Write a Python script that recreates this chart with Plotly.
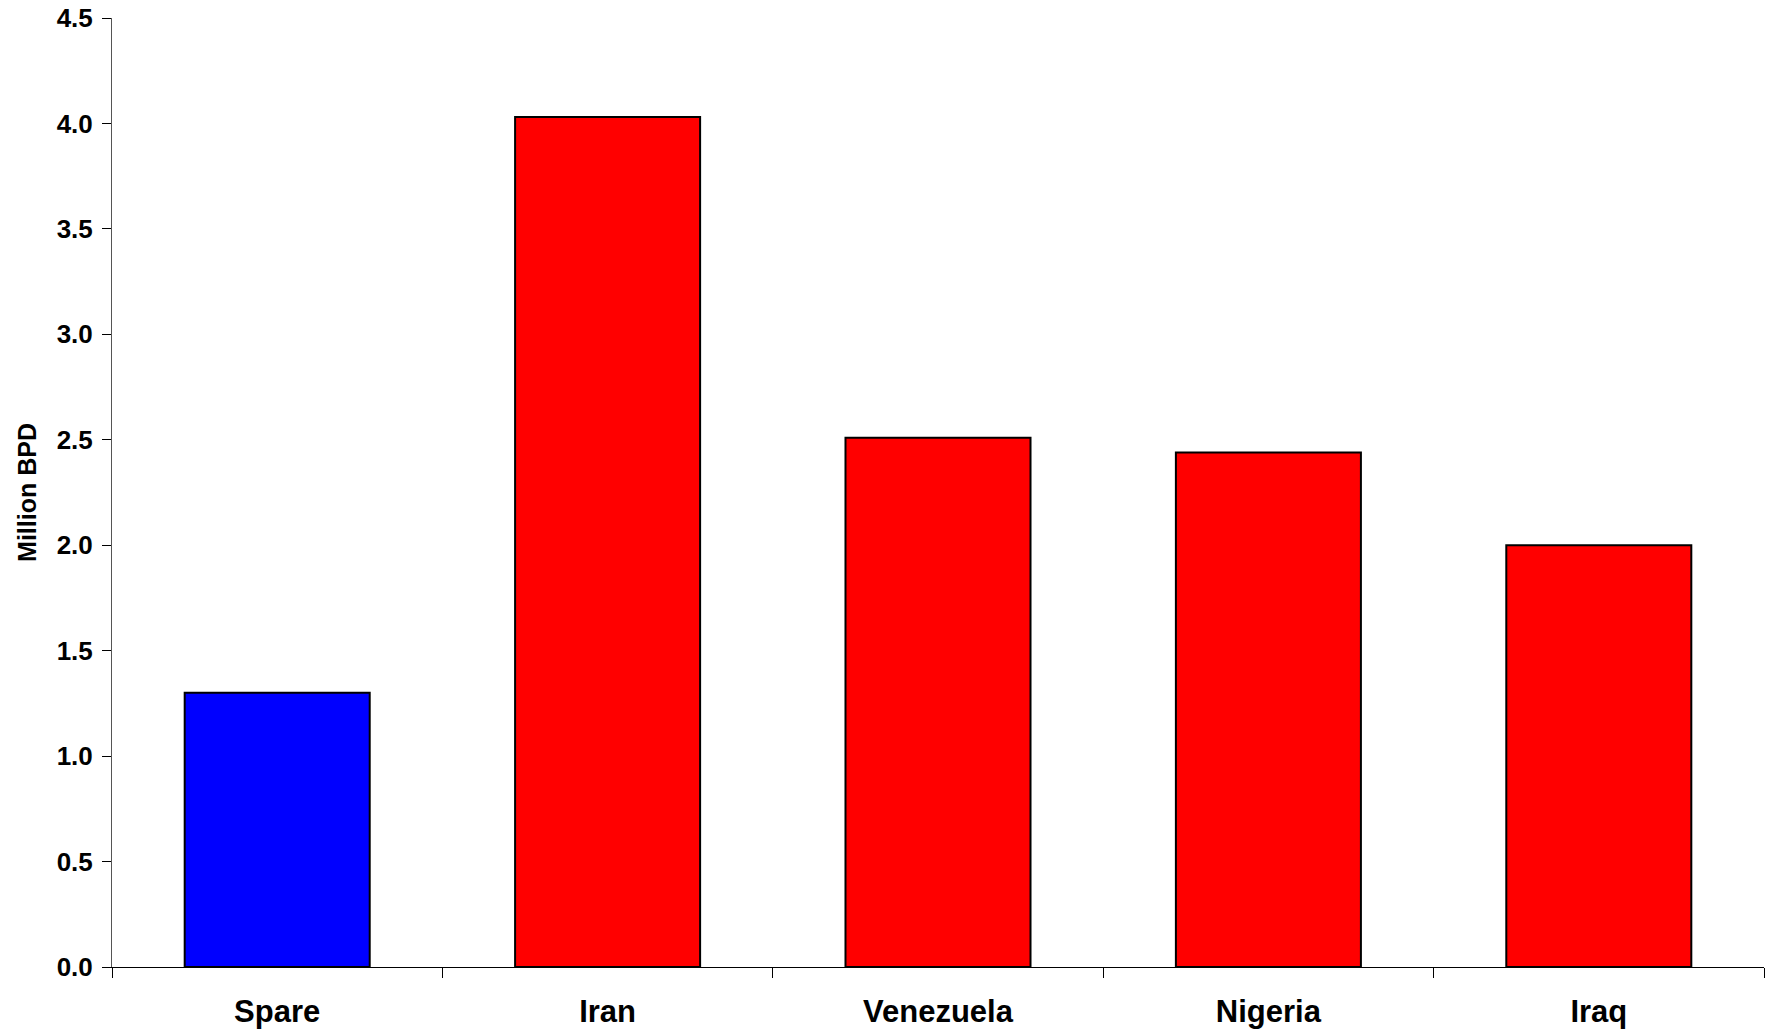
import plotly.graph_objects as go

categories = ["Spare", "Iran", "Venezuela", "Nigeria", "Iraq"]
values = [1.30, 4.03, 2.51, 2.44, 2.00]
bar_colors = ["#0000FF", "#FF0000", "#FF0000", "#FF0000", "#FF0000"]
y_ticks = [0.0, 0.5, 1.0, 1.5, 2.0, 2.5, 3.0, 3.5, 4.0, 4.5]
y_title = "Million BPD"

fig = go.Figure(
    go.Bar(
        x=categories,
        y=values,
        marker=dict(color=bar_colors, line=dict(color="black", width=2)),
    )
)

font_family = "Liberation Sans, Arial, sans-serif"

fig.update_layout(
    width=1767,
    height=1029,
    margin=dict(l=112, r=3, t=18, b=62),
    paper_bgcolor="white",
    plot_bgcolor="white",
    bargap=0.44,
    showlegend=False,
    font=dict(family=font_family, color="black"),
)

fig.update_xaxes(
    automargin=False,
    showline=True,
    linecolor="black",
    linewidth=1,
    ticks="outside",
    ticklen=10,
    tickcolor="black",
    tickson="boundaries",
    tickfont=dict(size=31, weight="bold", family=font_family),
    ticklabelstandoff=17,
    showgrid=False,
    zeroline=False,
)

fig.update_yaxes(
    automargin=False,
    range=[0, 4.5],
    tickvals=y_ticks,
    ticktext=[f"{v:.1f}" for v in y_ticks],
    showline=True,
    linecolor="#555555",
    linewidth=1,
    ticks="outside",
    ticklen=9,
    tickcolor="black",
    tickfont=dict(size=26, weight="bold", family=font_family),
    ticklabelstandoff=4,
    title=dict(text=y_title, font=dict(size=25, weight="bold", family=font_family), standoff=12),
    showgrid=False,
    zeroline=False,
)

fig.write_html(
    "out.html",
    config={"displayModeBar": False},
    post_script="document.body.style.margin='0';document.body.style.overflow='hidden';",
)
